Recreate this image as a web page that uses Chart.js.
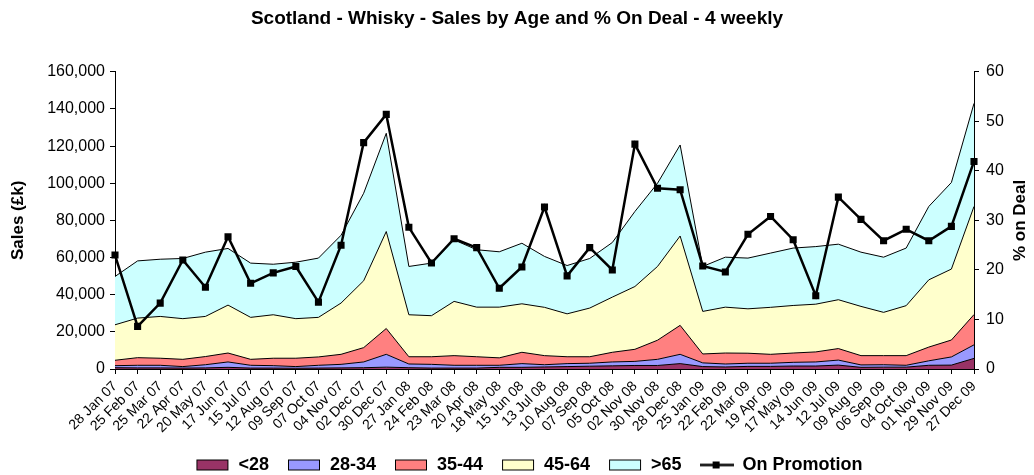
<!DOCTYPE html>
<html>
<head>
<meta charset="utf-8">
<script src="https://cdn.jsdelivr.net/npm/chart.js@4"></script>
<style>
  html, body { margin:0; padding:0; background:#fff; }
  #wrap { width:1034px; height:475px; }
</style>
</head>
<body>
<div id="wrap"><canvas id="c" width="1034" height="475"></canvas></div>
<script>
const periods = ['28 Jan 07','25 Feb 07','25 Mar 07','22 Apr 07','20 May 07','17 Jun 07','15 Jul 07','12 Aug 07',
  '09 Sep 07','07 Oct 07','04 Nov 07','02 Dec 07','30 Dec 07','27 Jan 08','24 Feb 08','23 Mar 08','20 Apr 08',
  '18 May 08','15 Jun 08','13 Jul 08','10 Aug 08','07 Sep 08','05 Oct 08','02 Nov 08','30 Nov 08','28 Dec 08',
  '25 Jan 09','22 Feb 09','22 Mar 09','19 Apr 09','17 May 09','14 Jun 09','12 Jul 09','09 Aug 09','06 Sep 09',
  '04 Oct 09','01 Nov 09','29 Nov 09','27 Dec 09'];

// sales (£k) by age band
const under28 = [700,600,600,500,600,900,500,500,400,500,600,700,1000,700,500,500,500,900,900,1100,
  1300,1500,1700,1900,1900,2900,1300,1100,1400,1400,1600,1600,2100,900,1000,1000,2000,2100,5700];
const age2834 = [1100,1400,1400,800,1700,2900,1500,1300,900,1500,1900,3100,6900,2000,2000,1500,1500,1100,2000,1200,
  1600,1600,2100,2200,3300,5000,2000,1600,1700,1700,2000,2200,2700,1300,1300,1000,2400,4400,7300];
const age3544 = [2900,4100,3800,3900,4400,4800,3200,4000,4500,4500,5400,7700,13900,3900,4100,5200,4600,4000,6100,4900,
  3700,3500,5200,6500,10300,15600,4800,5900,5400,4800,5000,5400,6200,5000,4900,5200,7400,9100,16300];
const age4564 = [19100,21300,22500,21900,21600,25800,22600,23400,21300,21300,27600,36000,52200,22600,22100,29200,26700,27300,26100,26000,
  23100,26200,29700,33800,39700,48100,22900,24700,23900,25300,25600,25700,26300,26500,23300,26900,36200,38200,58200];
const over65 = [26000,30800,30800,32400,34600,30500,29200,27200,30400,31900,36500,47100,52900,26000,28300,33100,30900,29800,32600,27400,
  26000,26700,29400,40400,44800,49000,24200,26900,27300,29200,30900,31000,29900,29200,29700,31000,39500,46600,55500];

// % on deal
const onPromotion = [23.0,8.6,13.3,22.0,16.5,26.7,17.3,19.4,20.7,13.5,25.0,45.7,51.4,28.6,21.4,26.3,24.5,16.3,20.6,32.7,
  18.8,24.5,20.0,45.4,36.5,36.2,20.8,19.6,27.2,30.8,26.1,14.8,34.7,30.2,25.9,28.2,25.9,28.8,41.9];

const FONT = 'Liberation Sans, Arial, sans-serif';

function area(label, data, color, fill) {
    return {
        label:label, data:data, yAxisID:'y',
        backgroundColor:color, borderColor:'#000', borderWidth:1,
        fill:fill, pointRadius:0, tension:0
    };
}

function legendIcon(ds) {
    const cv = document.createElement('canvas');
    cv.width = 34; cv.height = 13;
    const g = cv.getContext('2d');
    if (ds.yAxisID === 'y1') {
        g.strokeStyle = '#000'; g.lineWidth = 2.5;
        g.beginPath(); g.moveTo(0, 6.5); g.lineTo(34, 6.5); g.stroke();
        g.fillStyle = '#000'; g.fillRect(13, 3, 7, 7);
    } else {
        g.fillStyle = ds.backgroundColor; g.fillRect(1, 1, 32, 11);
        g.strokeStyle = '#000'; g.lineWidth = 1; g.strokeRect(1.5, 1.5, 31, 10);
    }
    return cv;
}

// right axis title reads bottom-to-top like the left one
const rightTitle = {
    id:'rightTitle',
    afterDraw(chart){
        const a = chart.chartArea, ctx = chart.ctx;
        ctx.save();
        ctx.translate(1020, (a.top + a.bottom) / 2);
        ctx.rotate(-Math.PI / 2);
        ctx.font = 'bold 17px ' + FONT;
        ctx.fillStyle = '#000';
        ctx.textAlign = 'center';
        ctx.textBaseline = 'middle';
        ctx.fillText('% on Deal', 0, 0);
        ctx.restore();
    }
};

// tighter legend block, nudged right a little
const legendFit = {
    id:'legendFit',
    afterInit(chart){
        const lg = chart.legend;
        const fit = lg.fit.bind(lg);
        lg.fit = function(){ fit(); this.height = 37; };
    },
    afterLayout(chart){
        chart.legend.left += 24;
    }
};

new Chart(document.getElementById('c'), {
    type:'line',
    data:{
        labels:periods,
        datasets:[
            area('<28', under28, '#993366', 'origin'),
            area('28-34', age2834, '#9999FF', '-1'),
            area('35-44', age3544, '#FF8080', '-1'),
            area('45-64', age4564, '#FFFFCC', '-1'),
            area('>65', over65, '#CCFFFF', '-1'),
            {
                label:'On Promotion', data:onPromotion, yAxisID:'y1', order:-1,
                borderColor:'#000', backgroundColor:'#000', borderWidth:2.5,
                pointStyle:'rect', pointRadius:5, pointBorderWidth:0,
                fill:false, tension:0
            }
        ]
    },
    options:{
        responsive:false,
        animation:false,
        layout:{ padding:0 },
        plugins:{
            title:{
                display:true,
                text:'Scotland - Whisky - Sales by Age and % On Deal - 4 weekly',
                color:'#000',
                font:{ family:FONT, size:19, weight:'bold' },
                padding:{ top:7, bottom:42 }
            },
            legend:{
                position:'bottom',
                labels:{
                    usePointStyle:true, pointStyleWidth:34,
                    color:'#000', padding:18,
                    font:{ family:FONT, size:18, weight:'bold' },
                    generateLabels:chart => chart.data.datasets.map((ds, i) => ({
                        text:ds.label, pointStyle:legendIcon(ds), datasetIndex:i,
                        hidden:false, lineWidth:0, fontColor:'#000'
                    }))
                }
            },
            tooltip:{ enabled:false }
        },
        scales:{
            x:{
                stacked:false,
                offset:false,
                grid:{ display:true, drawOnChartArea:false, drawTicks:true, tickLength:5, color:'#000' },
                border:{ display:true, color:'#000', width:1 },
                ticks:{
                    autoSkip:false, maxRotation:45, minRotation:45,
                    color:'#000', padding:4,
                    font:{ family:FONT, size:14 }
                },
                afterFit(s){ s.height = 69; }
            },
            y:{
                position:'left', stacked:true,
                min:0, max:160000,
                grid:{ display:true, drawOnChartArea:false, drawTicks:true, tickLength:5, color:'#000' },
                border:{ display:true, color:'#000', width:1 },
                ticks:{
                    stepSize:20000, color:'#000', padding:5,
                    font:{ family:FONT, size:16 },
                    callback:v => v.toLocaleString('en-US')
                },
                title:{
                    display:true, text:'Sales (£k)', color:'#000',
                    font:{ family:FONT, size:17, weight:'bold' },
                    padding:{ top:8, bottom:4 }
                },
                afterFit(s){ s.width = 115; }
            },
            y1:{
                position:'right',
                min:0, max:60,
                grid:{ display:true, drawOnChartArea:false, drawTicks:true, tickLength:5, color:'#000' },
                border:{ display:true, color:'#000', width:1 },
                ticks:{
                    stepSize:10, color:'#000', padding:7,
                    font:{ family:FONT, size:16 }
                },
                afterFit(s){ s.width = 60; }
            }
        }
    },
    plugins:[rightTitle, legendFit]
});
</script>
</body>
</html>
